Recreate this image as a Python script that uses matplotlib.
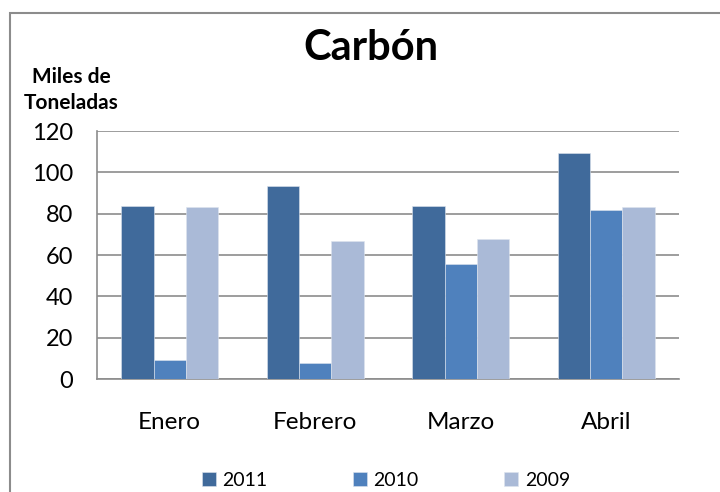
import numpy as np
import matplotlib
matplotlib.use("Agg")
import matplotlib.pyplot as plt
from matplotlib.patches import Rectangle

plt.rcParams['font.family'] = ['Lato', 'DejaVu Sans']

months = ["Enero", "Febrero", "Marzo", "Abril"]
years = ["2011", "2010", "2009"]
values_2011 = [83.6, 93.4, 83.9, 109.3]
values_2010 = [9.0, 7.6, 55.8, 81.8]
values_2009 = [83.4, 66.8, 67.9, 83.4]
colors = ["#406A9B", "#4F81BD", "#AABAD7"]
y_ticks = [0, 20, 40, 60, 80, 100, 120]

fig = plt.figure(figsize=(7.2, 4.92), dpi=100)
ax = fig.add_axes([97 / 720, 1 - 379 / 492, 582 / 720, 248 / 492])

# outer chart border (runs past the right and bottom edges)
fig.patches.append(Rectangle((10 / 720, -0.1), 1.1, 1 - 13 / 492 + 0.1,
                             transform=fig.transFigure, fill=False,
                             edgecolor="#8C8C8C", linewidth=1.5, zorder=0))

x = np.arange(len(months))
width = 1 / 4.5
series = [values_2011, values_2010, values_2009]
for i, (vals, name, c) in enumerate(zip(series, years, colors)):
    ax.bar(x + (i - 1) * width, vals, width, color=c, label=name,
           edgecolor="#DDE4EE", linewidth=0.4, zorder=3)

ax.set_xlim(-0.5, len(months) - 0.5)
ax.set_ylim(0, 120)
ax.set_yticks(y_ticks)
ax.set_xticks(x)
ax.set_xticklabels(months)
ax.yaxis.grid(True, color="#8C8C8C", linewidth=1.2, zorder=0)
ax.tick_params(axis="y", length=0, pad=17, labelsize=17)
ax.tick_params(axis="x", length=0, pad=24, labelsize=17.5)
for side in ["top", "right"]:
    ax.spines[side].set_visible(False)
for side in ["left", "bottom"]:
    ax.spines[side].set_color("#8C8C8C")
    ax.spines[side].set_linewidth(1.2)

fig.text(371 / 720, 1 - 48 / 492, "Carbón", ha="center", va="center",
         fontsize=30, fontweight="bold")
fig.text(71 / 720, 1 - 90 / 492, "Miles de\nToneladas", ha="center",
         va="center", fontsize=15, fontweight="bold", linespacing=1.4)

ax.legend(loc="center", bbox_to_anchor=(386 / 720, 1 - 480 / 492),
          bbox_transform=fig.transFigure, ncol=3, frameon=False,
          fontsize=14, handlelength=0.7, handleheight=0.7,
          handletextpad=0.35, columnspacing=4.4)

fig.savefig("out.png", dpi=100)
